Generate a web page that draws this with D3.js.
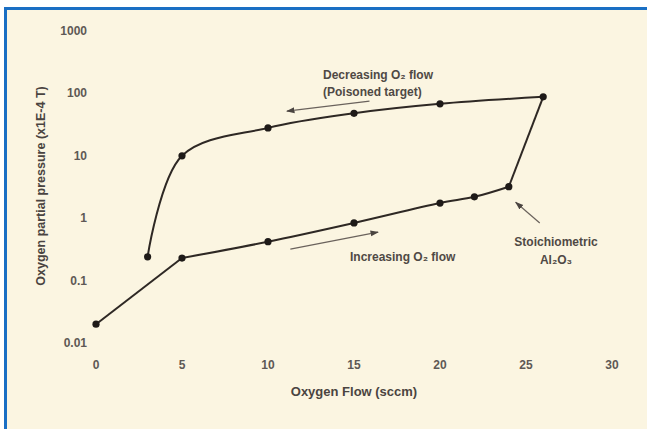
<!DOCTYPE html>
<html lang="en">
<head>
<meta charset="UTF-8">
<title>Oxygen hysteresis</title>
<script src="https://d3js.org/d3.v7.min.js"></script>
<style>
    body { margin: 0; background: #fff; }
    svg { display: block; font-family: "Liberation Sans", Arial, sans-serif; }
    .tick-label { font-size: 12px; fill: #5e5955; font-weight: bold; }
    .note { font-size: 12px; fill: #4f4945; font-weight: bold; }
</style>
</head>
<body>
<div id="container"></div>
<script>
    // increasing O2 flow branch
    const flowUp = [0, 5, 10, 15, 20, 22, 24];
    const pressUp = [0.02, 0.23, 0.42, 0.84, 1.75, 2.2, 3.2];
    // jump to poisoned state
    const flowJump = [24, 26];
    const pressJump = [3.2, 88];
    // decreasing O2 flow branch
    const flowDown = [26, 20, 15, 10, 5, 3];
    const pressDown = [88, 68, 48, 28, 10, 0.24];

    const xTicks = [0, 5, 10, 15, 20, 25, 30];
    const yTicks = [1000, 100, 10, 1, 0.1, 0.01];

    const width = 647, height = 429;

    const svg = d3.select('#container').append('svg')
        .attr('width', width)
        .attr('height', height);

    // cream panel with blue top/left rule
    svg.append('rect').attr('x', 4).attr('y', 7).attr('width', width).attr('height', height)
        .attr('fill', '#fbf5e1');
    svg.append('rect').attr('x', 4).attr('y', 7).attr('width', width).attr('height', 3)
        .attr('fill', '#1a6fc4');
    svg.append('rect').attr('x', 4).attr('y', 7).attr('width', 3).attr('height', height)
        .attr('fill', '#1a6fc4');

    const x = d3.scaleLinear().domain([0, 30]).range([96, 612]);
    const y = d3.scaleLog().domain([0.01, 1000]).range([343, 31]);

    // tick labels only, no axis lines
    svg.selectAll('.xlab').data(xTicks).enter().append('text')
        .attr('class', 'tick-label')
        .attr('x', d => x(d))
        .attr('y', 369)
        .attr('text-anchor', 'middle')
        .text(d => d);

    svg.selectAll('.ylab').data(yTicks).enter().append('text')
        .attr('class', 'tick-label')
        .attr('x', 87)
        .attr('y', d => y(d) + 4)
        .attr('text-anchor', 'end')
        .text(d => d);

    svg.append('text')
        .attr('x', 354).attr('y', 396)
        .attr('text-anchor', 'middle')
        .attr('font-size', 13).attr('font-weight', 'bold').attr('fill', '#4a4440')
        .text('Oxygen Flow (sccm)');

    svg.append('text')
        .attr('transform', 'translate(45,186) rotate(-90)')
        .attr('text-anchor', 'middle')
        .attr('font-size', 12.5).attr('font-weight', 'bold').attr('fill', '#4a4440')
        .text('Oxygen partial pressure (x1E-4 T)');

    const curved = d3.line().x(d => x(d[0])).y(d => y(d[1])).curve(d3.curveCatmullRom.alpha(0.5));
    const straight = d3.line().x(d => x(d[0])).y(d => y(d[1]));

    const up = d3.zip(flowUp, pressUp);
    const jump = d3.zip(flowJump, pressJump);
    const down = d3.zip(flowDown, pressDown);

    const lineStyle = p => p.attr('fill', 'none').attr('stroke', '#2e2824').attr('stroke-width', 2);

    // first leg of the rising branch is straight, the rest bends smoothly
    svg.append('path').attr('d', straight(up.slice(0, 2))).call(lineStyle);
    svg.append('path').attr('d', curved(up.slice(1))).call(lineStyle);
    svg.append('path').attr('d', straight(jump)).call(lineStyle);
    svg.append('path').attr('d', curved(down)).call(lineStyle);

    svg.selectAll('.pt').data(up.concat(down)).enter().append('circle')
        .attr('cx', d => x(d[0]))
        .attr('cy', d => y(d[1]))
        .attr('r', 3.6)
        .attr('fill', '#1e1a18');

    // arrow marker
    svg.append('defs').append('marker')
        .attr('id', 'arr').attr('viewBox', '0 0 10 10')
        .attr('refX', 9).attr('refY', 5)
        .attr('markerWidth', 7).attr('markerHeight', 7)
        .attr('orient', 'auto')
        .append('path').attr('d', 'M0,1.5 L10,5 L0,8.5 Z').attr('fill', '#4a4440');

    // annotations
    const notes = [
        { from: [15.9, 75], to: [11.1, 52] },
        { from: [11.3, 0.32], to: [16.4, 0.6] },
        { from: [25.8, 0.84], to: [24.4, 1.8] }
    ];
    svg.selectAll('.arrow').data(notes).enter().append('line')
        .attr('x1', d => x(d.from[0])).attr('y1', d => y(d.from[1]))
        .attr('x2', d => x(d.to[0])).attr('y2', d => y(d.to[1]))
        .attr('stroke', '#6a625c').attr('stroke-width', 1.2)
        .attr('marker-end', 'url(#arr)');

    svg.append('text').attr('class', 'note').attr('x', 323).attr('y', 79)
        .text('Decreasing O\u2082 flow');
    svg.append('text').attr('class', 'note').attr('x', 323).attr('y', 96)
        .text('(Poisoned target)');
    svg.append('text').attr('class', 'note').attr('x', 350).attr('y', 261)
        .text('Increasing O\u2082 flow');
    svg.append('text').attr('class', 'note').attr('x', 556).attr('y', 246)
        .attr('text-anchor', 'middle').text('Stoichiometric');
    svg.append('text').attr('class', 'note').attr('x', 556).attr('y', 264)
        .attr('text-anchor', 'middle').text('Al\u2082O\u2083');
</script>
</body>
</html>
